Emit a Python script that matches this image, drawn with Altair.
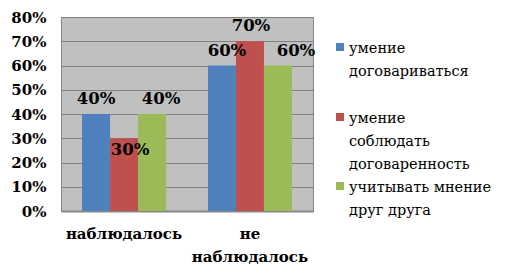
import altair as alt
import pandas as pd

categories = ["наблюдалось", "не наблюдалось"]
series = ["умение договариваться", "умение соблюдать договаренность", "учитывать мнение друг друга"]
values = {
    "умение договариваться": [0.40, 0.60],
    "умение соблюдать договаренность": [0.30, 0.70],
    "учитывать мнение друг друга": [0.40, 0.60],
}
legend_lines = {
    "умение договариваться": ["умение", "договариваться"],
    "умение соблюдать договаренность": [" умение", "соблюдать", "договаренность"],
    "учитывать мнение друг друга": ["учитывать мнение", "друг друга"],
}
colors = ["#4F81BD", "#C0504D", "#9BBB59"]
y_ticks = [0, 0.1, 0.2, 0.3, 0.4, 0.5, 0.6, 0.7, 0.8]

FONT = "DejaVu Serif"

rows = []
for s in series:
    for c, v in zip(categories, values[s]):
        rows.append({"cat": c, "series": s, "value": v})
df = pd.DataFrame(rows)

x = alt.X("cat:N", sort=categories, title=None,
          scale=alt.Scale(paddingInner=0.333, paddingOuter=0.167),
          axis=alt.Axis(labelAngle=0, ticks=False, domainColor="#868686", domainWidth=2,
                        labelFont=FONT, labelFontWeight="bold", labelFontSize=15,
                        labelColor="black", labelPadding=15, labelBaseline="top", labelLineHeight=23,
                        labelExpr="datum.value == 'не наблюдалось' ? ['не', 'наблюдалось'] : datum.label"))
xo = alt.XOffset("series:N", sort=series)
y = alt.Y("value:Q", title=None,
          scale=alt.Scale(domain=[0, 0.8], nice=False),
          axis=alt.Axis(values=y_ticks, format=".0%", ticks=False, domainColor="#868686",
                        gridColor="#808080", gridWidth=1,
                        labelFont=FONT, labelFontWeight="bold", labelFontSize=15,
                        labelColor="black", labelPadding=15))
color = alt.Color("series:N", sort=series, scale=alt.Scale(domain=series, range=colors), legend=None)

base = alt.Chart(df)
bars = base.mark_bar(size=28).encode(x=x, xOffset=xo, y=y, color=color)

# label nudges (styling only): (category, series) -> (dx, dy, baseline)
nudges = {
    ("наблюдалось", series[0]): (0, -7, "bottom"),
    ("наблюдалось", series[1]): (6, 4, "top"),
    ("наблюдалось", series[2]): (9, -7, "bottom"),
    ("не наблюдалось", series[0]): (5, -7, "bottom"),
    ("не наблюдалось", series[1]): (1, -7, "bottom"),
    ("не наблюдалось", series[2]): (18, -7, "bottom"),
}

label_layers = []
for (c, s), (dx, dy, bl) in nudges.items():
    label_layers.append(
        base.transform_filter(f"datum.cat == '{c}' && datum.series == '{s}'")
        .mark_text(baseline=bl, dx=dx, dy=dy, font=FONT, fontWeight="bold", fontSize=16.5, color="black")
        .encode(x=x, xOffset=xo, y=y, text=alt.Text("value:Q", format=".0%"))
    )

# manual legend (placed to the right of the plot area)
legend_pos = {series[0]: 30, series[1]: 100, series[2]: 169}
legend_layers = []
for s in series:
    ldf = pd.DataFrame({"series": [s]})
    sy = legend_pos[s]
    legend_layers.append(
        alt.Chart(ldf).mark_square(size=64, opacity=1).encode(
            x=alt.value(279), y=alt.value(sy), color=color)
    )
    legend_layers.append(
        alt.Chart(ldf).mark_text(align="left", baseline="alphabetic", font=FONT, fontSize=14.5,
                                 lineHeight=23, color="black").encode(
            x=alt.value(288), y=alt.value(sy + 6), text=alt.value(legend_lines[s]))
    )

chart = alt.layer(bars, *label_layers, *legend_layers).properties(
    width=252, height=194,
    autosize=alt.AutoSizeParams(type="none"),
    padding={"left": 61, "top": 17, "right": 196, "bottom": 63},
    background="white",
).configure_view(fill="#C0C0C0", stroke="#868686", strokeWidth=1)

chart.save("out.html", embed_options={"renderer": "svg", "actions": False})
